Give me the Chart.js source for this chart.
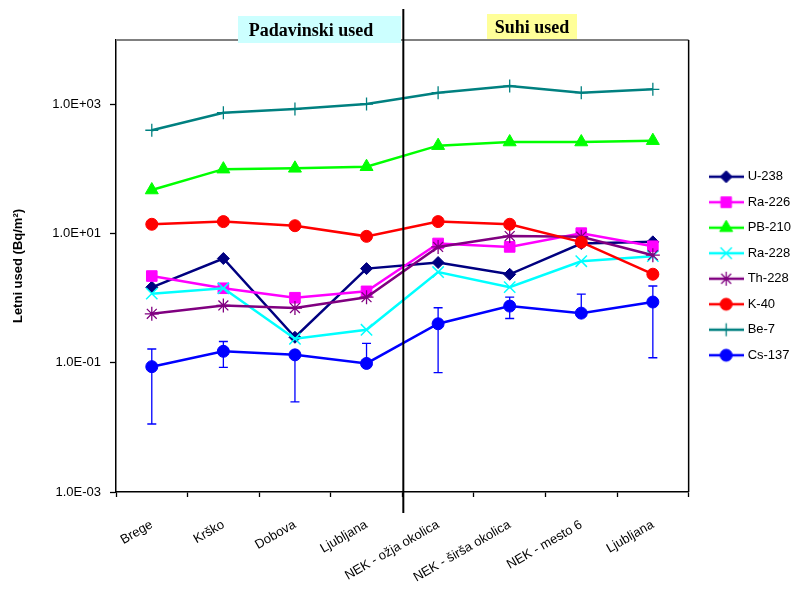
<!DOCTYPE html>
<html>
<head>
<meta charset="utf-8">
<script src="https://cdn.jsdelivr.net/npm/chart.js@4.4.0/dist/chart.umd.min.js"></script>
<style>
  html, body { margin: 0; padding: 0; background: #fff; }
</style>
</head>
<body>
<canvas id="myChart" width="799" height="589"></canvas>
<script>
// kraji vzorcenja (kategorije na osi x)
var kraji = ["Brege", "Krško", "Dobova", "Ljubljana", "NEK - ožja okolica", "NEK - širša okolica", "NEK - mesto 6", "Ljubljana"];

// letni used v Bq/m2, odcitano z grafa
var u238  = [1.48, 4.13, 0.249, 2.88, 3.58, 2.35, 7.06, 7.48];
var ra226 = [2.21, 1.43, 1.02, 1.28, 7.06, 6.25, 10.2, 6.4];
var pb210 = [47.5, 100, 103, 109, 231, 263, 263, 276];
var ra228 = [1.18, 1.43, 0.236, 0.325, 2.55, 1.49, 3.75, 4.49];
var th228 = [0.575, 0.776, 0.705, 1.04, 6.25, 9.2, 9.0, 4.65];
var k40   = [14.0, 15.4, 13.3, 9.1, 15.4, 14.0, 7.4, 2.36];
var be7   = [400, 748, 853, 1020, 1530, 1935, 1530, 1720];
var cs137 = [0.0873, 0.151, 0.133, 0.098, 0.403, 0.757, 0.589, 0.875];

// meje napak za Cs-137 (null = ni narisano)
var cs137Min = [0.0113, 0.085, 0.0249, null, 0.0705, 0.486, null, 0.120];
var cs137Max = [0.164, 0.214, null, 0.201, 0.714, 1.04, 1.16, 1.55];

var yTicks = [0.001, 0.1, 10, 1000];

var serije = [
  { label: "U-238",  data: u238,  color: "#000080", style: "rectRot",  r: 6,   bw: 1 },
  { label: "Ra-226", data: ra226, color: "#ff00ff", style: "rect",     r: 7.5, bw: 1 },
  { label: "PB-210", data: pb210, color: "#00ff00", style: "triangle", r: 7.5, bw: 1 },
  { label: "Ra-228", data: ra228, color: "#00ffff", style: "crossRot", r: 8,   bw: 1.5 },
  { label: "Th-228", data: th228, color: "#800080", style: "star",     r: 7,   bw: 1.3 },
  { label: "K-40",   data: k40,   color: "#ff0000", style: "circle",   r: 6,   bw: 1 },
  { label: "Be-7",   data: be7,   color: "#008080", style: "cross",    r: 6.5, bw: 1.3 },
  { label: "Cs-137", data: cs137, color: "#0000ff", style: "circle",   r: 6,   bw: 1 }
];

function fmtE(v) {
  var e = Math.round(Math.log10(v));
  var a = Math.abs(e);
  return "1.0E" + (e < 0 ? "-" : "+") + (a < 10 ? "0" : "") + a;
}

// ikona za legendo: crta + oznaka
function legendIcon(s) {
  var c = document.createElement("canvas");
  c.width = 35;
  c.height = 16;
  var g = c.getContext("2d");
  g.strokeStyle = s.color;
  g.fillStyle = s.color;
  g.lineWidth = 2.5;
  g.beginPath();
  g.moveTo(0, 8);
  g.lineTo(35, 8);
  g.stroke();
  g.lineWidth = s.bw;
  Chart.helpers.drawPoint(g, { pointStyle: s.style, radius: s.r, borderWidth: s.bw, rotation: 0 }, 17.5, 8);
  return c;
}

var datasets = serije.map(function (s, i) {
  return {
    label: s.label,
    data: s.data,
    borderColor: s.color,
    backgroundColor: s.color,
    borderWidth: 2.5,
    pointStyle: s.style,
    pointRadius: s.r,
    pointBorderWidth: s.bw,
    pointBackgroundColor: s.color,
    pointBorderColor: s.color,
    tension: 0,
    order: serije.length - i
  };
});

var okvirPlugin = {
  id: "okvir",
  afterLayout: function (chart) {
    // legendo premaknemo malo desno in jo centriramo ob risalni povrsini
    var a = chart.chartArea;
    chart.legend.left += 10;
    chart.legend.right += 10;
    chart.legend.top = a.top;
    chart.legend.bottom = a.bottom;
    chart.legend.height = a.bottom - a.top;
  },
  beforeDatasetsDraw: function (chart) {
    var ctx = chart.ctx;
    var a = chart.chartArea;
    ctx.save();
    ctx.strokeStyle = "#808080";
    ctx.lineWidth = 2;
    ctx.beginPath();
    ctx.moveTo(a.left, a.top);
    ctx.lineTo(a.right, a.top);
    ctx.stroke();
    ctx.strokeStyle = "#000";
    ctx.lineWidth = 1.5;
    ctx.beginPath();
    ctx.moveTo(a.right, a.top);
    ctx.lineTo(a.right, a.bottom);
    ctx.stroke();

    // napake za Cs-137
    var meta = chart.getDatasetMeta(serije.length - 1);
    var ys = chart.scales.y;
    ctx.strokeStyle = "#0000ff";
    ctx.lineWidth = 1.3;
    meta.data.forEach(function (pt, i) {
      var yc = pt.y;
      [cs137Min[i], cs137Max[i]].forEach(function (v) {
        if (v === null) return;
        var yy = ys.getPixelForValue(v);
        ctx.beginPath();
        ctx.moveTo(pt.x, yc);
        ctx.lineTo(pt.x, yy);
        ctx.moveTo(pt.x - 4.5, yy);
        ctx.lineTo(pt.x + 4.5, yy);
        ctx.stroke();
      });
    });
    ctx.restore();
  },
  afterDraw: function (chart) {
    var ctx = chart.ctx;
    var xs = chart.scales.x;
    var xd = xs.getPixelForValue(3.5) + 1;
    ctx.save();
    ctx.strokeStyle = "#000";
    ctx.lineWidth = 2;
    ctx.beginPath();
    ctx.moveTo(xd, 9);
    ctx.lineTo(xd, 513);
    ctx.stroke();

    ctx.font = "bold 18px 'Liberation Serif', 'Times New Roman', serif";
    ctx.textAlign = "center";
    ctx.textBaseline = "middle";
    ctx.fillStyle = "#ccffff";
    ctx.fillRect(238, 16, 163, 27);
    ctx.fillStyle = "#ffff99";
    ctx.fillRect(487, 14, 90, 25);
    ctx.fillStyle = "#000";
    ctx.fillText("Padavinski used", 311, 31);
    ctx.fillText("Suhi used", 532, 28);
    ctx.restore();
  }
};

Chart.defaults.font.family = "'Liberation Sans', Arial, sans-serif";
Chart.defaults.font.size = 13;
Chart.defaults.color = "#000";

var ctx = document.getElementById("myChart").getContext("2d");
var myChart = new Chart(ctx, {
  type: "line",
  data: { labels: kraji, datasets: datasets },
  options: {
    responsive: false,
    animation: false,
    devicePixelRatio: 1,
    layout: { padding: { top: 40, right: 8, bottom: 0, left: 0 } },
    plugins: {
      legend: {
        display: true,
        position: "right",
        align: "center",
        labels: {
          usePointStyle: true,
          pointStyleWidth: 30,
          padding: 12.5,
          color: "#000",
          font: { size: 13 },
          generateLabels: function (chart) {
            return serije.map(function (s, i) {
              return {
                text: s.label,
                pointStyle: legendIcon(s),
                datasetIndex: i,
                fillStyle: s.color,
                strokeStyle: s.color,
                lineWidth: 0,
                hidden: false,
                fontColor: "#000"
              };
            });
          }
        }
      },
      tooltip: { enabled: false }
    },
    scales: {
      x: {
        type: "category",
        offset: true,
        grid: { offset: true, drawOnChartArea: false, tickLength: 5, tickColor: "#000", tickWidth: 1.3 },
        border: { color: "#000", width: 1.5 },
        ticks: { minRotation: 30, maxRotation: 30, autoSkip: false, padding: 20, color: "#000", font: { size: 13 } },
        afterFit: function (s) { s.height = 97; }
      },
      y: {
        type: "logarithmic",
        min: 0.001,
        max: 10000,
        grid: { drawOnChartArea: false, tickLength: 6, tickColor: "#000", tickWidth: 1.3 },
        border: { color: "#000", width: 1.5 },
        afterBuildTicks: function (s) {
          s.ticks = yTicks.map(function (v) { return { value: v }; });
        },
        ticks: {
          padding: 9,
          color: "#000",
          font: { size: 13 },
          callback: function (v) { return fmtE(v); }
        },
        title: {
          display: true,
          text: "Letni used (Bq/m²)",
          color: "#000",
          font: { size: 13, weight: "bold" },
          padding: { top: 11, bottom: 0 }
        },
        afterFit: function (s) { s.width = 116; }
      }
    }
  },
  plugins: [okvirPlugin]
});
</script>
</body>
</html>
